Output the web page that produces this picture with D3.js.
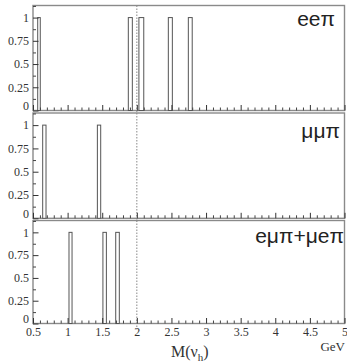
<!DOCTYPE html>
<html>
<head>
<meta charset="utf-8">
<script src="https://cdn.jsdelivr.net/npm/d3@7"></script>
<style>
  body { margin: 0; background: #fff; }
  svg { display: block; }
  .tick text { font-family: "Liberation Serif", "DejaVu Serif", serif; }
</style>
</head>
<body>
<svg id="mysvg"></svg>
<script>
// histogram bins (low edge, high edge) in GeV, all with 1 entry
const eeLo = [0.568, 1.877, 2.03, 2.455, 2.744];
const eeHi = [0.605, 1.935, 2.10, 2.513, 2.800];
const eeVal = [1, 1, 1, 1, 1];

const mmLo = [0.64, 1.43];
const mmHi = [0.688, 1.478];
const mmVal = [1, 1];

const emLo = [1.02, 1.51, 1.695];
const emHi = [1.064, 1.56, 1.747];
const emVal = [1, 1, 1];

const panelNames = ["eeπ", "μμπ", "eμπ+μeπ"];
const yTicks = [0, 0.25, 0.5, 0.75, 1];
const xTicks = [0.5, 1, 1.5, 2, 2.5, 3, 3.5, 4, 4.5, 5];
const cutMass = 2;

const width = 347, height = 362;
const left = 33, right = 344.5;

const svg = d3.select("#mysvg").attr("width", width).attr("height", height);

const x = d3.scaleLinear().domain([0.5, 5]).range([left, right]);

const panels = [
  { top: 5.5, bottom: 110.5, lo: eeLo, hi: eeHi, val: eeVal, lx: 335, ly: 26 },
  { top: 113, bottom: 218.3, lo: mmLo, hi: mmHi, val: mmVal, lx: 340, ly: 138 },
  { top: 220.5, bottom: 323.5, lo: emLo, hi: emHi, val: emVal, lx: 344, ly: 243 }
];

panels.forEach(function(p, i) {
  const y = d3.scaleLinear().domain([0, 1.13]).range([p.bottom, p.top]);
  const g = svg.append("g");

  // frame
  g.append("rect")
    .attr("x", left).attr("y", p.top)
    .attr("width", right - left).attr("height", p.bottom - p.top)
    .attr("fill", "none").attr("stroke", "#8a8a8a").attr("stroke-width", 1.4);

  // dotted cut line
  g.append("line")
    .attr("x1", x(cutMass)).attr("x2", x(cutMass))
    .attr("y1", p.top).attr("y2", p.bottom + (i == 2 ? 6 : 3))
    .attr("stroke", "#888").attr("stroke-width", 1)
    .attr("stroke-dasharray", "1.5,1.5");

  // bars
  const bars = p.lo.map((d, k) => ({ x0: d, x1: p.hi[k], v: p.val[k] }));
  g.selectAll(".bar").data(bars).join("rect").attr("class", "bar")
    .attr("x", d => x(d.x0))
    .attr("y", d => y(d.v))
    .attr("width", d => x(d.x1) - x(d.x0))
    .attr("height", d => y(0) - y(d.v))
    .attr("fill", "#fff").attr("stroke", "#555").attr("stroke-width", 1);

  // x minor ticks
  const xMinor = d3.range(0.6, 5.0, 0.1).filter(v => Math.abs(v * 2 - Math.round(v * 2)) > 0.01);
  g.append("g")
    .attr("transform", `translate(0,${p.bottom})`)
    .call(d3.axisBottom(x).tickValues(xMinor).tickSize(-3).tickFormat(""))
    .call(a => a.select(".domain").remove())
    .call(a => a.selectAll("line").attr("stroke", "#444"));

  // x major ticks
  const xa = g.append("g")
    .attr("transform", `translate(0,${p.bottom})`)
    .call(d3.axisBottom(x).tickValues(xTicks).tickSize(-5.5).tickPadding(5)
      .tickFormat(i == 2 ? d3.format("") : ""));
  xa.select(".domain").remove();
  xa.selectAll("line").attr("stroke", "#333");
  xa.selectAll("text")
    .style("font-family", "'Liberation Serif', serif").style("font-size", "12px")
    .attr("fill", "#333").attr("dy", "0.8em").attr("y", 3);

  // y minor ticks
  g.append("g")
    .attr("transform", `translate(${left},0)`)
    .call(d3.axisLeft(y).tickValues([0.125, 0.375, 0.625, 0.875, 1.125]).tickSize(-3).tickFormat(""))
    .call(a => a.select(".domain").remove())
    .call(a => a.selectAll("line").attr("stroke", "#444"));

  // y major ticks
  const ya = g.append("g")
    .attr("transform", `translate(${left},0)`)
    .call(d3.axisLeft(y).tickValues(yTicks).tickSize(-5.5).tickPadding(4)
      .tickFormat(d => d3.format("")(d)));
  ya.select(".domain").remove();
  ya.selectAll("line").attr("stroke", "#333");
  ya.selectAll("text")
    .style("font-family", "'Liberation Serif', serif").style("font-size", "12px")
    .attr("fill", "#333").attr("x", -4);
  ya.selectAll(".tick").filter(d => d == 0).select("text").attr("dy", "-0.05em");

  // panel label
  g.append("text")
    .attr("x", p.lx).attr("y", p.ly)
    .attr("text-anchor", "end")
    .attr("font-family", "'Liberation Sans', Arial, sans-serif")
    .attr("font-size", 21).attr("fill", "#222")
    .text(panelNames[i]);
});

// axis title
const title = svg.append("text")
  .attr("x", 171).attr("y", 356.5)
  .attr("font-family", "'Liberation Serif', serif")
  .attr("font-size", 16).attr("fill", "#333");
title.append("tspan").text("M(ν");
title.append("tspan").attr("font-size", 11).attr("dy", 4).text("h");
title.append("tspan").attr("dy", -4).text(")");

svg.append("text")
  .attr("x", 345).attr("y", 351)
  .attr("text-anchor", "end")
  .attr("font-family", "'Liberation Serif', serif")
  .attr("font-size", 13).attr("fill", "#333")
  .text("GeV");
</script>
</body>
</html>
